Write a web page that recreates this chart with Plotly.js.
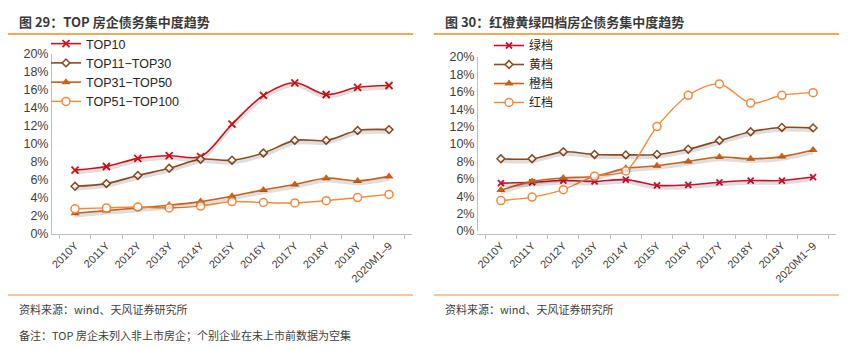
<!DOCTYPE html>
<html><head><meta charset="utf-8">
<script src="https://cdn.plot.ly/plotly-3.0.1.min.js"></script>
<style>html,body{margin:0;padding:0;background:#fff;}#chart{width:853px;height:350px;}</style>
</head><body><div id="chart"></div>
<script>
// ---- data ----
const catsLeft  = ['2010Y','2011Y','2012Y','2013Y','2014Y','2015Y','2016Y','2017Y','2018Y','2019Y','2020M1–9'];
const catsRight = ['2010Y','2011Y','2012Y','2013Y','2014Y','2015Y','2016Y','2017Y','2018Y','2019Y','2020M1~9'];

const top10     = [7.1, 7.5, 8.4, 8.7, 8.6, 12.2, 15.4, 16.8, 15.5, 16.3, 16.5];
const top11_30  = [5.3, 5.6, 6.5, 7.3, 8.3, 8.2, 9.0, 10.4, 10.4, 11.5, 11.6];
const top31_50  = [2.3, 2.6, 2.9, 3.2, 3.6, 4.2, 4.9, 5.5, 6.2, 5.9, 6.4];
const top51_100 = [2.8, 2.9, 3.0, 2.9, 3.1, 3.6, 3.5, 3.45, 3.7, 4.05, 4.4];

const green  = [5.5, 5.6, 5.8, 5.7, 5.9, 5.25, 5.3, 5.6, 5.8, 5.8, 6.2];
const yellow = [8.3, 8.3, 9.1, 8.8, 8.75, 8.8, 9.4, 10.4, 11.4, 11.9, 11.85];
const orange = [4.7, 5.7, 6.1, 6.3, 7.2, 7.5, 8.0, 8.5, 8.3, 8.55, 9.3];
const red    = [3.5, 3.9, 4.75, 6.3, 6.9, 12.0, 15.6, 16.9, 14.7, 15.6, 15.9];

const yTicks = [0,2,4,6,8,10,12,14,16,18,20];
const yTickText = yTicks.map(v => v + '%');

// ---- styles ----
const W = 853, H = 350;
const px = v => v / W, py = v => 1 - v / H;
const latin = 'Liberation Sans, Arial, Noto Sans CJK SC, sans-serif';
const cjk = 'Noto Sans CJK SC, Liberation Sans, sans-serif';
const shadow = 'rgba(0,0,0,0.13)';

function series(x, y, name, color, marker, xa, ya, legend, width) {
  return {x: x, y: y, name: name, type: 'scatter', mode: 'lines+markers',
    xaxis: xa, yaxis: ya, legend: legend,
    line: {color: color, width: width || 1.6, shape: 'spline', smoothing: 0.9},
    marker: marker, hoverinfo: 'x+y'};
}
function shade(x, y, xa, ya) {
  return {x: x, y: y, type: 'scatter', mode: 'lines', xaxis: xa, yaxis: ya,
    showlegend: false, hoverinfo: 'skip',
    line: {color: shadow, width: 3.5, shape: 'spline', smoothing: 0.9}};
}

const cRed = '#D0121B', cBrown = '#8C4A1E', cOrg = '#C9611A', cLt = '#F4883A';
const cRed2 = '#C8102E';

const traces = [
  shade(catsLeft, top11_30, 'x', 'y3'),
  shade(catsLeft, top31_50, 'x', 'y3'),
  shade(catsLeft, top10, 'x', 'y3'),
  series(catsLeft, top10, 'TOP10', cRed, {symbol: 'x-thin', size: 7, line: {color: cRed, width: 1.8}}, 'x', 'y', 'legend'),
  series(catsLeft, top11_30, 'TOP11−TOP30', cBrown, {symbol: 'diamond', size: 6, color: '#fff', line: {color: cBrown, width: 1.5}}, 'x', 'y', 'legend'),
  series(catsLeft, top31_50, 'TOP31−TOP50', cOrg, {symbol: 'triangle-up', size: 8, color: cOrg, line: {width: 0}}, 'x', 'y', 'legend'),
  series(catsLeft, top51_100, 'TOP51−TOP100', cLt, {symbol: 'circle', size: 8, color: '#fff', line: {color: cLt, width: 1.5}}, 'x', 'y', 'legend', 1.4),

  shade(catsRight, yellow, 'x2', 'y4'),
  shade(catsRight, orange, 'x2', 'y4'),
  shade(catsRight, green, 'x2', 'y4'),
  series(catsRight, green, '绿档', cRed2, {symbol: 'x-thin', size: 6, line: {color: cRed2, width: 1.8}}, 'x2', 'y2', 'legend2'),
  series(catsRight, yellow, '黄档', cBrown, {symbol: 'diamond', size: 6, color: '#fff', line: {color: cBrown, width: 1.5}}, 'x2', 'y2', 'legend2'),
  series(catsRight, orange, '橙档', cOrg, {symbol: 'triangle-up', size: 8, color: cOrg, line: {width: 0}}, 'x2', 'y2', 'legend2'),
  series(catsRight, red, '红档', cLt, {symbol: 'circle', size: 8, color: '#fff', line: {color: cLt, width: 1.5}}, 'x2', 'y2', 'legend2', 1.4)
];

const axisX = (dom) => ({domain: dom, type: 'category', showline: true, linecolor: '#bfbfbf', linewidth: 1,
  ticks: 'outside', tickson: 'boundaries', ticklen: 4, tickcolor: '#bfbfbf', tickangle: -45,
  tickfont: {family: latin, size: 11, color: '#404040'}, showgrid: false, zeroline: false, fixedrange: true});
const axisY = (dom, anchor) => ({domain: dom, anchor: anchor, range: [0, 20], tickvals: yTicks, ticktext: yTickText,
  showline: true, linecolor: '#bfbfbf', linewidth: 1, ticks: '', showgrid: false, zeroline: false,
  tickfont: {family: latin, size: 12.5, color: '#404040'}, fixedrange: true});
const shadowY = (over, anchor, shift) => ({overlaying: over, anchor: anchor, range: [shift, 20 + shift], visible: false, fixedrange: true});

const layout = {
  width: W, height: H, margin: {l: 0, r: 0, t: 0, b: 0},
  paper_bgcolor: '#fff', plot_bgcolor: 'rgba(0,0,0,0)', showlegend: true,
  xaxis: axisX([px(52), px(412)]),
  yaxis: axisY([py(234), py(54)], 'x'),
  xaxis2: axisX([px(478), px(836)]),
  yaxis2: axisY([py(231), py(57)], 'x2'),
  yaxis3: shadowY('y', 'x', 0.28),
  yaxis4: shadowY('y2', 'x2', 0.28),
  legend: {x: px(46), y: py(29), xanchor: 'left', yanchor: 'top', bgcolor: 'rgba(0,0,0,0)',
    font: {family: latin, size: 12.5, color: '#262626'}, tracegroupgap: 0, itemwidth: 30},
  legend2: {x: px(489), y: py(31), xanchor: 'left', yanchor: 'top', bgcolor: 'rgba(0,0,0,0)',
    font: {family: cjk, size: 12, color: '#262626'}, tracegroupgap: 0, itemwidth: 30},
  shapes: [
    {type: 'line', xref: 'paper', yref: 'paper', x0: px(8), x1: px(413), y0: py(34), y1: py(34), line: {color: '#F28A1E', width: 1.5}},
    {type: 'line', xref: 'paper', yref: 'paper', x0: px(434), x1: px(839), y0: py(34), y1: py(34), line: {color: '#F28A1E', width: 1.5}},
    {type: 'line', xref: 'paper', yref: 'paper', x0: px(8), x1: px(413), y0: py(295), y1: py(295), line: {color: '#EE8E3C', width: 1.2}},
    {type: 'line', xref: 'paper', yref: 'paper', x0: px(434), x1: px(839), y0: py(295), y1: py(295), line: {color: '#EE8E3C', width: 1.2}}
  ],
  annotations: [
    {text: '<b>图 29：TOP 房企债务集中度趋势</b>', xref: 'paper', yref: 'paper', x: px(17), y: py(22), xanchor: 'left', yanchor: 'middle', showarrow: false,
     font: {family: cjk, size: 13, color: '#3a3a3a'}},
    {text: '<b>图 30：红橙黄绿四档房企债务集中度趋势</b>', xref: 'paper', yref: 'paper', x: px(443), y: py(22), xanchor: 'left', yanchor: 'middle', showarrow: false,
     font: {family: cjk, size: 13, color: '#3a3a3a'}},
    {text: '资料来源：wind、天风证券研究所', xref: 'paper', yref: 'paper', x: px(17), y: py(309), xanchor: 'left', yanchor: 'middle', showarrow: false,
     font: {family: cjk, size: 11, color: '#404040'}},
    {text: '资料来源：wind、天风证券研究所', xref: 'paper', yref: 'paper', x: px(443), y: py(309), xanchor: 'left', yanchor: 'middle', showarrow: false,
     font: {family: cjk, size: 11, color: '#404040'}},
    {text: '备注：TOP 房企未列入非上市房企；个别企业在未上市前数据为空集', xref: 'paper', yref: 'paper', x: px(17), y: py(335), xanchor: 'left', yanchor: 'middle', showarrow: false,
     font: {family: cjk, size: 11, color: '#404040'}}
  ]
};

Plotly.newPlot('chart', traces, layout, {staticPlot: true, displayModeBar: false});
</script>
</body></html>
